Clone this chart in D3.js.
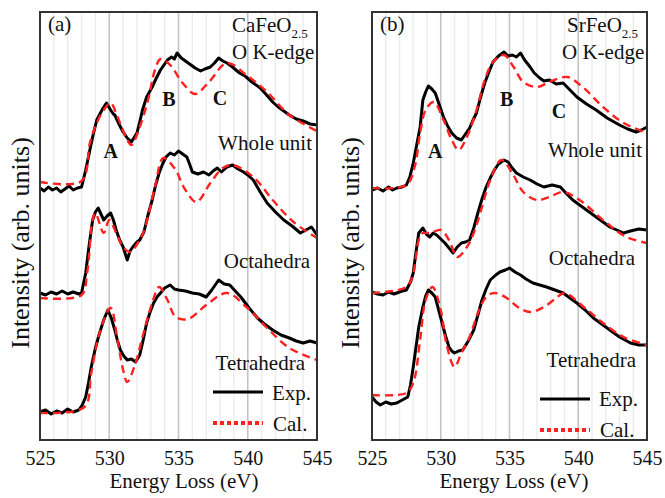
<!DOCTYPE html>
<html lang="en">
<head>
<meta charset="UTF-8">
<title>O K-edge ELNES</title>
<script src="https://d3js.org/d3.v7.min.js"></script>
<style>
  body { margin: 0; background: #fff; }
  svg text { font-family: "Liberation Serif", "Times New Roman", serif; fill: #111; }
</style>
</head>
<body>
<div id="chart"></div>
<script>
// energy ticks (eV)
const ticks = [525, 530, 535, 540, 545];
const minorTicks = d3.range(526, 545);

// ---- (a) CaFeO2.5 : [energy eV, intensity arb.] ----
const caWholeExp = [[525.0,252],[525.3,249],[525.6,253],[525.9,250],[526.2,252],[526.5,248],[526.8,251],[527.1,254],[527.4,250],[527.7,252],[528.0,253],[528.3,270],[528.6,290],[528.85,306],[529.1,320],[529.4,328],[529.6,333],[529.8,337],[530.1,330],[530.3,326],[530.4,325],[530.7,316],[531.0,308],[531.3,302],[531.6,298],[532.0,307],[532.2,318],[532.4,330],[532.7,343],[533.1,353],[533.4,362],[533.7,370],[534.0,376],[534.2,380],[534.5,383],[534.7,381],[534.9,387],[535.2,382],[535.6,378],[535.9,375],[536.2,372],[536.6,369],[536.9,371],[537.3,373],[537.6,377],[537.9,382],[538.2,379],[538.5,377],[538.9,373],[539.4,367],[539.8,364],[540.3,358],[540.9,352],[541.3,346],[541.8,338],[542.2,333],[542.6,329],[543.0,325],[543.5,321],[544.0,319],[544.5,316],[545.0,315]];
const caWholeCal = [[525,258],[528,259],[528.6,297],[529.1,317],[529.6,330],[530.1,337],[530.6,323],[531.3,300],[531.6,295],[532.2,313],[532.8,340],[533.3,370],[533.7,381],[534.4,375],[535.3,357],[536.2,346],[537.2,358],[538.5,377],[539.9,365],[541.4,348],[543.0,325],[545,309]];
const caOctExp = [[525.0,147],[525.4,145],[525.8,148],[526.2,146],[526.6,149],[527.0,146],[527.4,148],[527.8,146],[528.0,147],[528.3,167],[528.55,195],[528.8,220],[529.0,228],[529.2,232],[529.4,226],[529.6,220],[529.85,224],[530.1,227],[530.3,220],[530.5,210],[530.75,200],[531.0,193],[531.3,180],[531.5,189],[531.7,193],[532.0,198],[532.2,200],[532.5,208],[532.8,225],[533.1,240],[533.35,255],[533.6,267],[533.85,276],[534.1,283],[534.4,287],[534.7,285],[535.0,289],[535.3,286],[535.6,283],[535.8,276],[536.0,268],[536.4,266],[536.8,268],[537.2,265],[537.5,269],[537.8,272],[538.1,268],[538.5,273],[538.9,275],[539.3,271],[539.7,268],[540.0,265],[540.4,260],[540.9,248],[541.4,237],[542.0,228],[542.6,220],[543.2,214],[543.8,207],[544.2,210],[544.6,213],[545.0,205]];
const caOctCal = [[525,142],[528,145],[528.4,167],[528.8,220],[529.0,227],[529.6,207],[530.0,220],[530.5,207],[531.0,193],[531.5,188],[532.2,200],[532.6,213],[533.3,253],[533.9,282],[534.7,272],[535.5,250],[536.3,238],[537.3,257],[538.2,272],[538.9,275],[540.4,263],[541.8,240],[543.3,218],[545,202]];
const caTetExp = [[525.0,28],[525.4,30],[525.8,26],[526.2,29],[526.6,27],[527.0,31],[527.4,28],[527.8,30],[528.05,35],[528.3,43],[528.5,57],[528.7,73],[529.0,92],[529.3,107],[529.6,120],[529.9,130],[530.15,122],[530.4,110],[530.6,99],[530.8,90],[531.05,84],[531.3,80],[531.6,81],[531.9,78],[532.2,85],[532.45,100],[532.7,117],[532.95,128],[533.2,137],[533.45,143],[533.7,147],[534.0,152],[534.4,155],[534.7,151],[535.0,150],[535.5,149],[536.0,147],[536.5,146],[537.0,143],[537.4,150],[537.9,160],[538.3,156],[538.7,155],[539.1,149],[539.5,143],[540.1,132],[540.7,122],[541.2,116],[541.8,110],[542.4,105],[543.0,102],[543.5,99],[544.0,97],[544.5,99],[545.0,97]];
const caTetCal = [[525,27],[528.2,33],[528.7,67],[529.3,107],[530.1,132],[530.6,100],[531.0,70],[531.3,58],[531.9,77],[532.4,103],[533.1,137],[533.6,153],[534.2,140],[534.8,123],[535.7,121],[537.0,135],[538.5,147],[539.9,133],[541.4,112],[543.0,92],[545,80]];

// ---- (b) SrFeO2.5 ----
const srWholeExp = [[525.0,250],[525.4,252],[525.8,249],[526.2,253],[526.5,250],[526.8,252],[527.2,253],[527.5,255],[527.75,263],[528.0,277],[528.25,295],[528.5,313],[528.7,340],[528.9,348],[529.1,354],[529.35,351],[529.6,347],[529.9,335],[530.2,323],[530.5,314],[530.8,307],[531.15,302],[531.5,300],[531.8,306],[532.1,312],[532.35,320],[532.6,327],[532.9,343],[533.2,357],[533.5,368],[533.8,378],[534.2,384],[534.6,388],[534.9,384],[535.2,385],[535.5,383],[535.8,387],[536.1,380],[536.5,373],[536.8,367],[537.2,362],[537.5,359],[537.9,360],[538.4,356],[538.9,357],[539.4,350],[539.9,343],[540.6,336],[541.3,330],[542.1,322],[543.0,315],[543.6,311],[544.2,308],[544.6,310],[545.0,313]];
const srWholeCal = [[525,252],[527.5,255],[528.1,273],[528.5,307],[528.9,330],[529.5,338],[530.2,320],[530.8,300],[531.3,290],[531.9,303],[532.6,330],[533.2,360],[533.8,378],[534.6,385],[535.3,373],[536.0,358],[537.0,353],[537.9,358],[539.2,363],[540.4,352],[541.8,333],[543.3,317],[545,307]];
const srOctExp = [[525.0,148],[525.4,146],[525.8,145],[526.2,148],[526.6,146],[526.8,147],[527.2,149],[527.5,150],[527.8,158],[528.0,167],[528.2,188],[528.4,207],[528.7,212],[528.95,206],[529.2,203],[529.45,207],[529.7,205],[530.0,201],[530.3,197],[530.6,192],[530.9,187],[531.2,193],[531.5,197],[531.8,198],[532.1,200],[532.4,212],[532.7,227],[533.0,241],[533.3,253],[533.6,262],[533.9,270],[534.2,276],[534.6,280],[534.9,278],[535.2,272],[535.5,267],[536.0,263],[536.5,260],[537.0,256],[537.5,253],[538.1,255],[538.7,253],[539.1,247],[539.6,240],[540.2,234],[540.9,227],[541.6,220],[542.3,213],[542.8,210],[543.3,207],[543.8,209],[544.4,211],[545.0,210]];
const srOctCal = [[525,147],[527.5,153],[528.0,167],[528.4,200],[528.7,207],[529.2,207],[530.0,210],[530.6,200],[531.2,183],[531.9,193],[532.4,207],[533.0,233],[533.6,260],[534.4,280],[535.2,267],[536.0,248],[537.0,240],[537.9,243],[538.9,248],[540.1,240],[541.8,220],[543.5,203],[545,197]];
const srTetExp = [[525.0,43],[525.3,38],[525.6,35],[526.0,38],[526.4,36],[526.8,37],[527.2,40],[527.6,43],[527.8,55],[528.0,73],[528.2,93],[528.4,113],[528.7,133],[528.9,144],[529.1,150],[529.35,147],[529.6,143],[529.85,130],[530.1,117],[530.35,104],[530.6,93],[530.8,89],[531.0,87],[531.3,89],[531.6,90],[532.0,99],[532.4,110],[532.7,125],[533.0,140],[533.3,151],[533.6,160],[534.0,165],[534.3,168],[534.7,170],[535.0,172],[535.4,168],[535.8,165],[536.2,161],[536.7,157],[537.2,155],[537.7,153],[538.3,150],[538.9,147],[539.4,142],[539.9,137],[540.5,130],[541.1,122],[541.7,116],[542.3,110],[543.0,103],[543.8,97],[544.4,95],[545.0,95]];
const srTetCal = [[525,45],[527.5,47],[528.0,57],[528.5,100],[528.9,140],[529.4,153],[530.0,130],[530.4,97],[531.0,73],[531.5,87],[532.1,103],[532.7,127],[533.3,143],[533.9,147],[534.8,142],[535.6,133],[536.5,128],[537.5,133],[538.4,142],[539.0,147],[540.4,133],[541.8,117],[543.3,103],[545,95]];

const W = 665, H = 498;
const plotTop = 12, plotBottom = 440;
const serif = '"Liberation Serif", "Times New Roman", serif';

const svg = d3.select("#chart").append("svg")
    .attr("width", W)
    .attr("height", H)
    .attr("font-family", serif);

const panels = [
  { left: 40, right: 317, tag: "(a)", compound: "CaFeO", compX: 232, kX: 232, xlabX: 184,
    exp: [caWholeExp, caOctExp, caTetExp], cal: [caWholeCal, caOctCal, caTetCal],
    peaks: [["A", 530.1, 282], ["B", 534.3, 334], ["C", 538.0, 335]],
    names: [["Whole unit", 312, 150], ["Octahedra", 310, 268], ["Tetrahedra", 305, 370]],
    legend: { x1: 213, x2: 263, yExp: 392, yCal: 423, tx: 272, dy: 8 }, ylabX: 29 },
  { left: 372, right: 647, tag: "(b)", compound: "SrFeO", compX: 567, kX: 562, xlabX: 514,
    exp: [srWholeExp, srOctExp, srTetExp], cal: [srWholeCal, srOctCal, srTetCal],
    peaks: [["A", 529.6, 282], ["B", 534.8, 334], ["C", 538.6, 322]],
    names: [["Whole unit", 642, 157], ["Octahedra", 635, 265], ["Tetrahedra", 636, 367]],
    legend: { x1: 540, x2: 590, yExp: 399, yCal: 430, tx: 599, dy: 7 }, ylabX: 359 }
];

panels.forEach(p => {
  const x = d3.scaleLinear().domain([525, 545]).range([p.left, p.right]);
  const y = d3.scaleLinear().domain([0, 428]).range([plotBottom, plotTop]);
  const g = svg.append("g");

  // vertical grid, darker every 5 eV
  g.selectAll(".minor").data(minorTicks).enter().append("line")
    .attr("x1", d => x(d)).attr("x2", d => x(d))
    .attr("y1", plotTop).attr("y2", plotBottom)
    .attr("stroke", d => d % 5 === 0 ? "#c4c4c4" : "#ececec")
    .attr("stroke-width", d => d % 5 === 0 ? 1.6 : 1.4);

  const line = d3.line().x(d => x(d[0])).y(d => y(d[1]));
  const smooth = d3.line().x(d => x(d[0])).y(d => y(d[1])).curve(d3.curveCatmullRom.alpha(0.5));

  p.exp.forEach(s => {
    g.append("path").datum(s).attr("d", line)
      .attr("fill", "none").attr("stroke", "#000")
      .attr("stroke-width", 3).attr("stroke-linejoin", "round");
  });
  p.cal.forEach(s => {
    g.append("path").datum(s).attr("d", smooth)
      .attr("fill", "none").attr("stroke", "#ff2020")
      .attr("stroke-width", 2.4).attr("stroke-dasharray", "8,5");
  });

  // frame
  g.append("rect")
    .attr("x", p.left).attr("y", plotTop)
    .attr("width", p.right - p.left).attr("height", plotBottom - plotTop)
    .attr("fill", "none").attr("stroke", "#333").attr("stroke-width", 2);

  // x axis labels
  const axis = g.append("g")
    .attr("transform", `translate(0,${plotBottom})`)
    .call(d3.axisBottom(x).tickValues(ticks).tickSize(0).tickPadding(11).tickFormat(d3.format("d")));
  axis.select(".domain").remove();
  axis.attr("font-family", serif);
  axis.selectAll("text")
    .style("font-family", serif)
    .style("font-size", "20px").attr("fill", "#111");

  g.append("text")
    .attr("x", p.xlabX).attr("y", 488)
    .attr("text-anchor", "middle").style("font-size", "21px")
    .text("Energy Loss (eV)");

  g.append("text")
    .attr("transform", `translate(${p.ylabX},243) rotate(-90)`)
    .attr("text-anchor", "middle").style("font-size", "26px")
    .text("Intensity (arb. units)");

  g.append("text").attr("x", p.left + 8).attr("y", 31)
    .style("font-size", "21px").text(p.tag);

  const comp = g.append("text").attr("x", p.compX).attr("y", 32).style("font-size", "21px");
  comp.append("tspan").text(p.compound);
  comp.append("tspan").attr("dy", 5.5).style("font-size", "13px").text("2.5");
  g.append("text").attr("x", p.kX).attr("y", 59)
    .style("font-size", "21px").text("O K-edge");

  g.selectAll(".peak").data(p.peaks).enter().append("text")
    .attr("x", d => x(d[1])).attr("y", d => y(d[2]))
    .attr("text-anchor", "middle")
    .style("font-size", "20px").style("font-weight", "bold")
    .text(d => d[0]);

  g.selectAll(".name").data(p.names).enter().append("text")
    .attr("x", d => d[1]).attr("y", d => d[2])
    .attr("text-anchor", "end").style("font-size", "21px")
    .text(d => d[0]);

  // legend
  const L = p.legend;
  g.append("line").attr("x1", L.x1).attr("x2", L.x2)
    .attr("y1", L.yExp).attr("y2", L.yExp)
    .attr("stroke", "#000").attr("stroke-width", 2.8);
  g.append("line").attr("x1", L.x1).attr("x2", L.x2)
    .attr("y1", L.yCal).attr("y2", L.yCal)
    .attr("stroke", "#ff2020").attr("stroke-width", 4).attr("stroke-dasharray", "4,3");
  g.append("text").attr("x", L.tx).attr("y", L.yExp + L.dy)
    .style("font-size", "21px").text("Exp.");
  g.append("text").attr("x", L.tx + 1).attr("y", L.yCal + L.dy)
    .style("font-size", "21px").text("Cal.");
});
</script>
</body>
</html>
